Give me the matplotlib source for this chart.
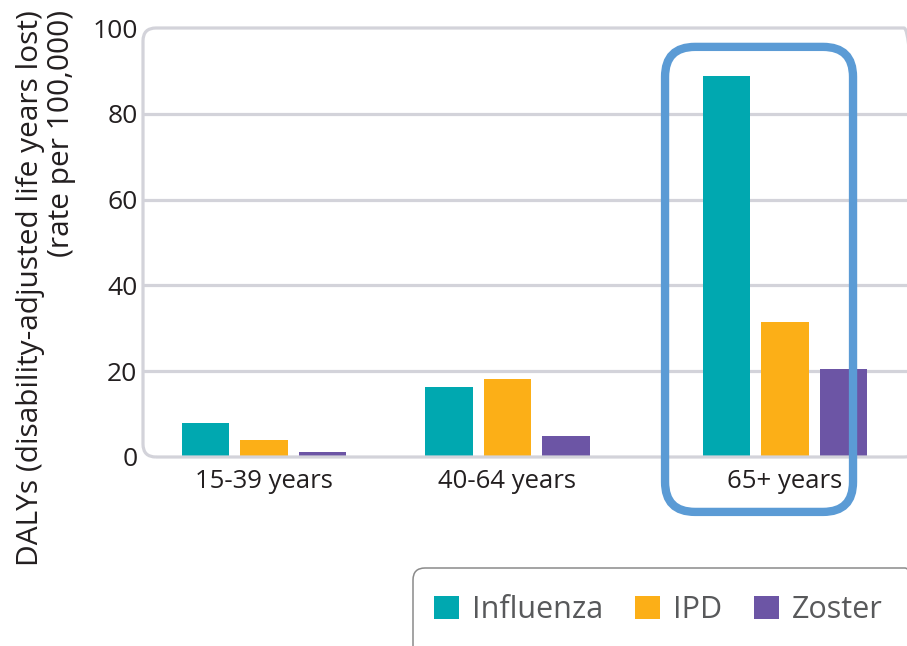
import matplotlib

matplotlib.use("Agg")
import matplotlib.pyplot as plt
import numpy as np
from matplotlib.patches import FancyBboxPatch
from matplotlib.transforms import IdentityTransform

age_groups = ["15-39 years", "40-64 years", "65+ years"]
series_names = ["Influenza", "IPD", "Zoster"]
influenza = [7.9, 16.3, 88.8]
ipd = [4.0, 18.1, 31.4]
zoster = [1.2, 4.9, 20.5]

_COLORS = ["#00a8b0", "#fcaf17", "#6c55a5"]
_GRID = "#d3d3da"
_TEXT = "#231f20"
_LEGEND_TEXT = "#58595b"
_HIGHLIGHT = "#5b9bd5"

plt.rcParams["font.family"] = ["Open Sans", "DejaVu Sans"]

W, H = 907, 646
fig = plt.figure(figsize=(W / 100, H / 100), dpi=100, facecolor="white")

# axes box in pixels (from top-left of image)
ax_l, ax_t, ax_r, ax_b = 143, 28, 917, 457
ax = fig.add_axes([ax_l / W, 1 - ax_b / H, (ax_r - ax_l) / W, (ax_b - ax_t) / H])

group_pos = np.array([0.0, 1.0, 2.14])
px_per_unit = 243.5
x_left = -(264 - ax_l) / px_per_unit
ax.set_xlim(x_left, x_left + (ax_r - ax_l) / px_per_unit)
ax.set_ylim(0, 100)

bar_w = 0.195
step = 0.24
for i, (vals, color) in enumerate(zip([influenza, ipd, zoster], _COLORS)):
    ax.bar(group_pos + (i - 1) * step, vals, width=bar_w, color=color,
           label=series_names[i], zorder=3)

for y in [20, 40, 60, 80]:
    ax.axhline(y, color=_GRID, lw=2.3, zorder=1)

for spine in ax.spines.values():
    spine.set_visible(False)

ax.set_yticks([0, 20, 40, 60, 80, 100])
ax.set_xticks(group_pos, age_groups)
ax.tick_params(axis="both", length=0, labelsize=18.5, labelcolor=_TEXT)
ax.tick_params(axis="y", pad=4, labelsize=19)
ax.tick_params(axis="x", pad=9)

# rounded frame (left spine + top/bottom lines)
frame = FancyBboxPatch(
    (ax_l, H - ax_b), ax_r - ax_l, ax_b - ax_t,
    boxstyle="round,pad=0,rounding_size=13",
    transform=IdentityTransform(), fill=False, ec=_GRID, lw=2.3,
    clip_on=False, zorder=2,
)
fig.add_artist(frame)

# highlight box around 65+ group
(hx0, hy0) = ax.transData.transform((group_pos[2] - 0.493, -12.8))
(hx1, hy1) = ax.transData.transform((group_pos[2] + 0.279, 95.6))
box = FancyBboxPatch(
    (hx0, hy0), hx1 - hx0, hy1 - hy0,
    boxstyle="round,pad=0,rounding_size=30",
    transform=IdentityTransform(), fill=False, ec=_HIGHLIGHT, lw=6,
    clip_on=False, zorder=5,
)
fig.add_artist(box)

fig.text(46 / W, 1 - 10 / H,
         "DALYs (disability-adjusted life years lost)\n(rate per 100,000)",
         rotation=90, ha="center", va="top", multialignment="right",
         fontsize=21.5, color=_TEXT, linespacing=1.05)

# legend
handles, labels = ax.get_legend_handles_labels()
fig.legend(handles, labels, loc="center left",
           bbox_to_anchor=(434 / W, 1 - 610 / H), ncol=3, frameon=False,
           handlelength=0.82, handleheight=0.82, handletextpad=0.42,
           columnspacing=1.05, borderpad=0, borderaxespad=0,
           fontsize=22, labelcolor=_LEGEND_TEXT)
leg_box = FancyBboxPatch(
    (413, -30), 917 - 413, H - 568 + 30,
    boxstyle="round,pad=0,rounding_size=12",
    transform=IdentityTransform(), fill=False, ec="#8a8a8a", lw=1.1,
    clip_on=False,
)
fig.add_artist(leg_box)

fig.savefig("out.png", dpi=100, facecolor="white")
